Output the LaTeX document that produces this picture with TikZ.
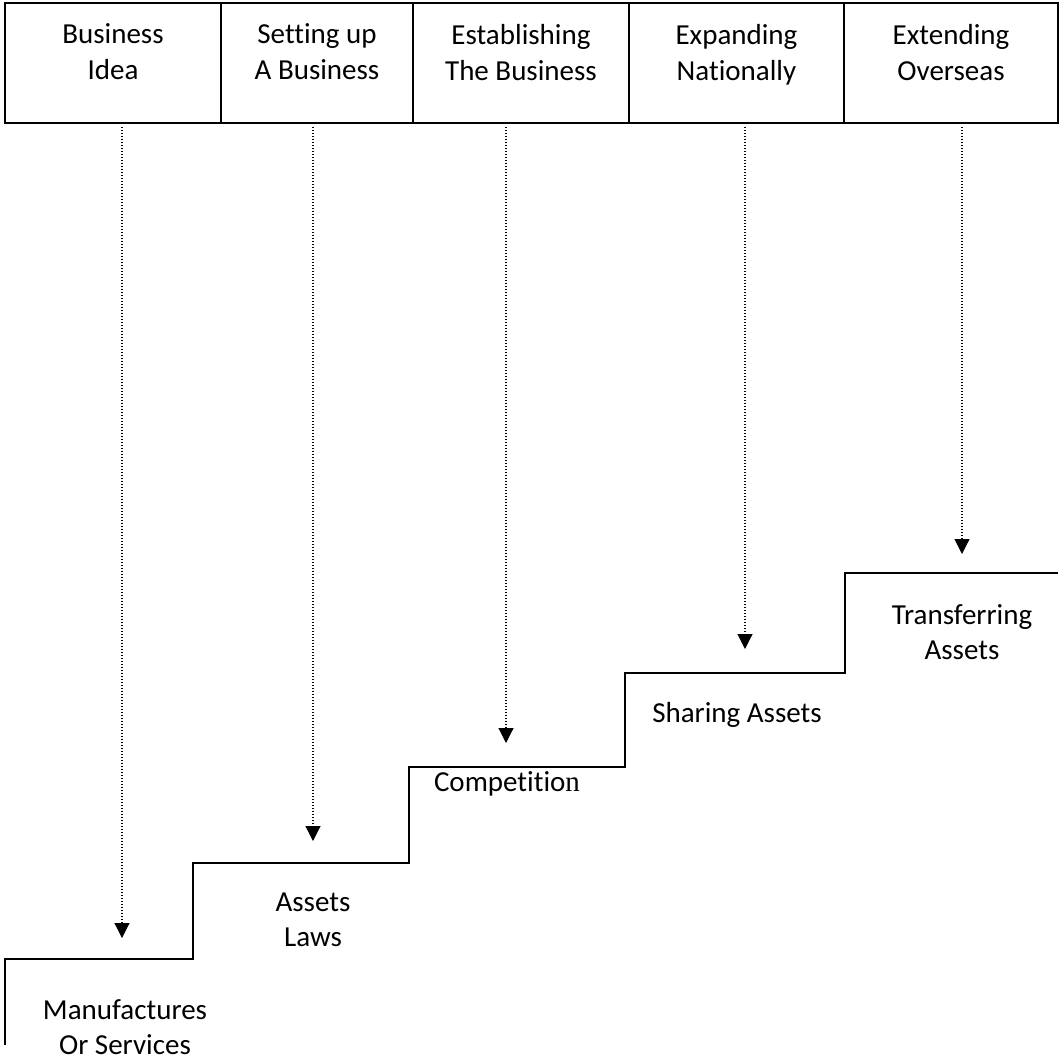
\documentclass[tikz,border=0pt]{standalone}
\usepackage{fontspec}
\setmainfont{Carlito}[Ligatures=CommonOff]
\newfontfamily\serifn{Liberation Serif}
\usetikzlibrary{arrows.meta,positioning,calc}

\begin{document}
\begin{tikzpicture}[x=1pt,y=-1pt,join=miter]
		\tikzstyle{stage}=[draw, line width=1.6pt, rectangle, align=center, minimum height=120pt, outer sep=0pt, inner sep=0pt, text depth=22pt, font=\fontsize{29}{36}\selectfont]
		\tikzstyle{lbl}=[align=center, font=\fontsize{29}{35}\selectfont]
		\tikzstyle{stair}=[line width=2pt]
		\tikzstyle{flow}=[line width=1.1pt, dash pattern=on 1.1pt off 1.9pt, -{Triangle[width=15pt,length=15pt]}]
		\useasboundingbox (0,0) rectangle (1062,1060);
		
		\node[stage, minimum width=216pt] (idea) at (113,63) {Business\\Idea};
		\node[stage, minimum width=192pt, right=0pt of idea] (setup) {Setting up\\A Business};
		\node[stage, minimum width=216pt, right=0pt of setup] (estab) {Establishing\\The Business};
		\node[stage, minimum width=215pt, right=0pt of estab] (expand) {Expanding\\Nationally};
		\node[stage, minimum width=214pt, right=0pt of expand] (extend) {Extending\\Overseas};
		
		\draw[stair] (5,1045) |- (193,959) |- (409,863) |- (625,767) |- (845,673) |- (1058,573);
		
		\node[lbl] (manuf) at (125,1027) {Manufactures\\Or Services};
		\node[lbl] (laws) at (313,920) {Assets\\Laws};
		\node[lbl] (compet) at (507,784) {Competitio{\serifn n}};
		\node[lbl] (share) at (737,715) {Sharing Assets};
		\node[lbl] (transf) at (962,632) {Transferring\\Assets};
		
		\coordinate (t1) at (122,938);
		\coordinate (t2) at (313,841);
		\coordinate (t3) at (506,743);
		\coordinate (t4) at (745,649);
		\coordinate (t5) at (962,554);
		
		\draw[flow, shorten <=4pt] (idea.south -| t1) -- (t1);
		\draw[flow, shorten <=4pt] (setup.south -| t2) -- (t2);
		\draw[flow, shorten <=4pt] (estab.south -| t3) -- (t3);
		\draw[flow, shorten <=4pt] (expand.south -| t4) -- (t4);
		\draw[flow, shorten <=4pt] (extend.south -| t5) -- (t5);
	\end{tikzpicture}
\end{document}
